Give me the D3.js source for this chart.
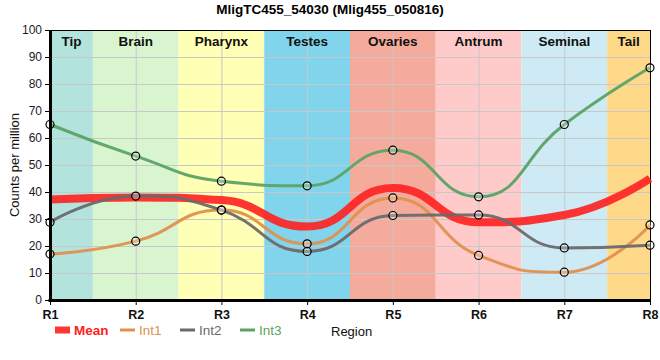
<!DOCTYPE html>
<html><head><meta charset="utf-8">
<script src="https://cdn.jsdelivr.net/npm/d3@7"></script>
<style>body{margin:0;background:#fff}svg{font-family:"Liberation Sans",Arial,sans-serif}</style>
</head><body><svg id="c" width="660" height="360"></svg>
<script>
const regions = ["R1","R2","R3","R4","R5","R6","R7","R8"];
const tissues = ["Tip","Brain","Pharynx","Testes","Ovaries","Antrum","Seminal","Tail"];
const tissueColors = ["#b3e3dd","#d9f5d0","#ffffb5","#80d4ec","#f4ab9c","#fecaca","#cdeaf5","#fed98a"];
const mean = [37.2, 38.0, 37.0, 27.2, 41.5, 28.8, 31.5, 45.0];
const int1 = [17.0, 21.8, 33.3, 20.8, 37.8, 16.5, 10.3, 27.8];
const int2 = [28.8, 38.5, 33.3, 18.0, 31.3, 31.5, 19.3, 20.3];
const int3 = [65.0, 53.3, 44.0, 42.3, 55.5, 38.2, 65.0, 86.0];
const yTicks = [0,10,20,30,40,50,60,70,80,90,100];

const svg = d3.select("#c");
const L=50,R=650,T=30,B=300;
const x = d3.scalePoint().domain(regions).range([L,R]);
const y = d3.scaleLinear().domain([0,100]).range([B,T]);
const step = x.step();

// spline path (smoothed cubic, flat tangents at extrema)
function spline(data){
  const pts = data.map((d,i)=>({x:x(regions[i]), y:y(d)}));
  const sm = 1.0, den = sm + 1;
  pts.forEach((p,i)=>{
    const a = pts[i-1], b = pts[i+1];
    if(a && b){
      let lx=(sm*p.x+a.x)/den, ly=(sm*p.y+a.y)/den, rx=(sm*p.x+b.x)/den, ry=(sm*p.y+b.y)/den;
      const c = ((ry-ly)*(rx-p.x))/(rx-lx) + p.y - ry;
      ly+=c; ry+=c;
      if(ly>a.y && ly>p.y){ ly=Math.max(a.y,p.y); ry=2*p.y-ly; }
      else if(ly<a.y && ly<p.y){ ly=Math.min(a.y,p.y); ry=2*p.y-ly; }
      if(ry>b.y && ry>p.y){ ry=Math.max(b.y,p.y); ly=2*p.y-ry; }
      else if(ry<b.y && ry<p.y){ ry=Math.min(b.y,p.y); ly=2*p.y-ry; }
      p.lx=lx; p.ly=ly; p.rx=rx; p.ry=ry;
    } else { p.lx=p.rx=p.x; p.ly=p.ry=p.y; }
  });
  const path = d3.path();
  path.moveTo(pts[0].x, pts[0].y);
  for(let i=1;i<pts.length;i++){
    const a=pts[i-1], p=pts[i];
    path.bezierCurveTo(a.rx,a.ry,p.lx,p.ly,p.x,p.y);
  }
  return path.toString();
}

// bands
const bands = svg.append("g");
tissues.forEach((t,i)=>{
  const x0 = Math.max(L, x(regions[i]) - step/2), x1 = Math.min(R, x(regions[i]) + step/2);
  bands.append("rect").attr("x",x0).attr("y",T).attr("width",x1-x0).attr("height",B-T).attr("fill",tissueColors[i]);
});
// grid
const grid = svg.append("g").attr("stroke","#c8c8c8").attr("stroke-width",1);
yTicks.forEach(v=>grid.append("line").attr("x1",L).attr("x2",R).attr("y1",y(v)+0.5).attr("y2",y(v)+0.5));
regions.forEach(r=>grid.append("line").attr("x1",x(r)+0.5).attr("x2",x(r)+0.5).attr("y1",T).attr("y2",B));
// band labels
tissues.forEach((t,i)=>{
  const x0 = Math.max(L, x(regions[i]) - step/2), x1 = Math.min(R, x(regions[i]) + step/2);
  svg.append("text").attr("x",(x0+x1)/2).attr("y",46).attr("text-anchor","middle")
    .attr("font-size",13.5).attr("font-weight","bold").attr("fill","#111").text(t);
});
// frame
svg.append("rect").attr("x",L+0.5).attr("y",T+0.5).attr("width",R-L).attr("height",B-T).attr("fill","none").attr("stroke","#000").attr("stroke-width",1);

const series = [
  {name:"Mean", data:mean, color:"#ff2020", w:8, op:0.9, pts:false},
  {name:"Int1", data:int1, color:"#e0904f", w:3, op:0.95, pts:true},
  {name:"Int2", data:int2, color:"#6a6a6a", w:3, op:0.95, pts:true},
  {name:"Int3", data:int3, color:"#5ba365", w:3, op:0.95, pts:true}
];
series.forEach(s=>{
  svg.append("path").attr("d",spline(s.data)).attr("fill","none").attr("stroke",s.color)
    .attr("stroke-width",s.w).attr("stroke-opacity",s.op);
});
series.filter(s=>s.pts).forEach(s=>{
  svg.append("g").selectAll("circle").data(s.data).join("circle")
    .attr("cx",(d,i)=>x(regions[i])).attr("cy",d=>y(d)).attr("r",4)
    .attr("fill","rgba(255,255,255,0.25)").attr("stroke","#000").attr("stroke-width",1.2);
});

// axes
const ya = svg.append("g").attr("transform",`translate(${L},0)`).call(d3.axisLeft(y).tickValues(yTicks).tickSize(5).tickSizeOuter(0));
ya.select(".domain").attr("stroke-width",3);
ya.selectAll("text").attr("font-size",12).attr("fill","#1a1a2a").attr("font-family","Liberation Sans, Arial, sans-serif");
const xa = svg.append("g").attr("transform",`translate(0,${B})`).call(d3.axisBottom(x).tickSize(5).tickSizeOuter(0));
xa.select(".domain").attr("stroke-width",3).attr("d",`M${L-1.5},0.5H${R}`);
xa.selectAll("text").attr("font-size",12.5).attr("font-weight","bold").attr("fill","#111").attr("dy","0.9em").attr("font-family","Liberation Sans, Arial, sans-serif");

// title
svg.append("text").attr("x",330).attr("y",14).attr("text-anchor","middle").attr("font-size",13.5).attr("font-weight","bold").text("MligTC455_54030 (Mlig455_050816)");
// y label
svg.append("text").attr("transform","translate(19,165) rotate(-90)").attr("text-anchor","middle").attr("font-size",13).attr("fill","#111").text("Counts per million");
// legend
const lg = svg.append("g");
const lx = [55,120,180,240];
series.forEach((s,i)=>{
  if(s.name==="Mean") lg.append("rect").attr("x",lx[i]).attr("y",326.5).attr("width",15).attr("height",7).attr("fill",s.color).attr("opacity",0.9);
  else lg.append("line").attr("x1",lx[i]).attr("x2",lx[i]+15).attr("y1",330).attr("y2",330).attr("stroke",s.color).attr("stroke-width",3);
  lg.append("text").attr("x",lx[i]+19).attr("y",335).attr("font-size",13.5).attr("fill",s.color).attr("font-weight", s.name==="Mean"?"bold":"normal").text(s.name);
});
svg.append("text").attr("x",331).attr("y",336).attr("font-size",13).attr("fill","#111").text("Region");
</script></body></html>
